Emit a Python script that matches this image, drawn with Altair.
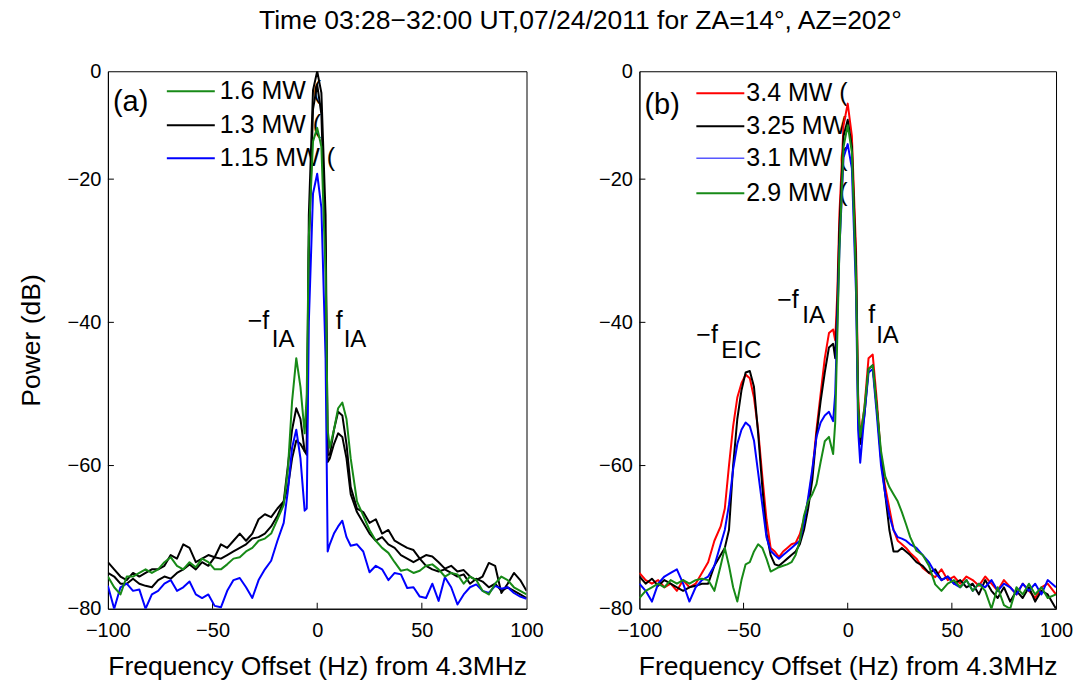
import altair as alt
import pandas as pd

FONT = "Liberation Sans"

# ---------------- panel (a) data ----------------
xa = [-100, -97, -94, -91, -88, -85, -82, -79, -76, -73, -70, -67, -64, -61, -58, -55, -52, -49, -46, -43,
      -40, -37, -34, -31, -28, -25, -22, -19, -16,
      -14, -12, -10, -8, -6, -5, -4, -2, 0, 2, 4, 5, 6, 8, 10, 12, 14,
      16, 19, 22, 25, 28, 31, 34, 37, 40, 43, 46, 49, 52, 55, 58, 61, 64, 67, 70, 73, 76, 79, 82, 85, 88,
      91, 94, 97, 100]

a_green = [-75.5, -77, -78, -75.5, -75.5, -75, -74.5, -75, -74.5, -73.5, -72.8, -74, -74.5, -73.5, -74.2, -73,
           -73.5, -74.5, -74.5, -73.8, -73, -72.8, -72, -71.5, -70.5, -70.2, -69.5, -67.5, -65.5,
           -60.5, -51, -45, -49, -55.5, -50, -28, -13, -10.5, -14, -33, -55, -57.5, -55, -52, -51.2, -53.5,
           -59, -65, -67, -69, -70.5, -71.5, -72.2, -73.5, -74.7, -74.5, -75, -74.7, -74, -73.8, -74.5, -75.5,
           -75, -75.2, -76.5, -75.5, -76, -77.5, -78, -76.5, -75.5, -76, -77, -77.5, -78]

a_black1 = [-73.5, -74.5, -75.5, -76, -75, -75.5, -75, -74.5, -74.5, -74, -72.5, -73, -71, -71.5, -73.5, -73,
            -72.5, -72.8, -71, -71.5, -70.5, -69.5, -70.5, -69.5, -67.5, -66.8, -67.2, -66, -65,
            -60, -55, -52, -53.5, -58, -58.5, -25, -3.5, 0, -4, -25, -58.5, -58.5, -55, -52.5, -53, -57,
            -63, -66, -66.5, -68, -67.5, -69.5, -69, -70.5, -71, -71.5, -71.8, -73, -72.5, -72.7, -73.5, -74.4,
            -74, -74.8, -74.6, -75.5, -76, -75.5, -73.6, -74, -77.8, -76.5, -75, -76, -77.5]

a_black2 = [-75, -75.5, -76.5, -76.5, -75.8, -76.5, -76.8, -77, -76, -75.5, -75.8, -75, -74.5, -73.8, -74.5, -73.5,
            -74, -72.8, -73, -72.5, -72, -71.5, -71, -70.2, -70, -69.5, -68.5, -67, -65,
            -63, -59, -56.5, -57, -58, -58, -30, -7, -2.5, -8, -30, -59.5, -59, -57, -55.5, -56, -59,
            -64, -66.5, -68, -69.5, -70.5, -70, -71, -71.5, -72.5, -73, -73.5, -73, -74, -74.5, -74.8, -74.5,
            -75, -75.5, -75.2, -76.5, -75.8, -76.2, -77, -76.5, -77.5, -77, -77.5, -78, -78.5]

a_blue = [-76.8, -80, -77, -76.5, -77.5, -77.3, -80, -78, -77.5, -76.5, -76, -77.5, -77, -76.2, -78, -78.5,
          -78, -79.6, -79.8, -77.5, -76, -75.7, -77, -78.5, -76, -74.5, -73.3, -70.5, -68,
          -63.5, -57.5, -55, -59, -66.3, -66, -40, -22, -19, -24, -45, -72, -71, -69.5, -68.5, -67.7, -70,
          -71.2, -71, -72, -74.9, -74, -74.5, -76, -75, -75.2, -77.1, -77, -78.3, -78.5, -76.5, -78.9, -75.6,
          -77, -79.4, -78, -77, -76.6, -77.5, -77.8, -76.8, -77.2, -77, -77.8, -78.3, -78.6]

# ---------------- panel (b) data ----------------
xb = [-100, -97, -94, -91, -88, -85, -82, -79, -76, -73, -70, -67, -64, -61,
      -59, -57, -55, -53, -51, -49, -47, -45, -43, -41, -39, -37, -35, -33, -31, -29, -27, -25, -23, -21,
      -19, -17, -15, -13, -11, -9, -7,
      -6, -5, -4, -2, 0, 2, 4, 5, 6,
      8, 10, 12, 14, 16, 18, 20, 22, 24, 26, 28, 30,
      33, 36, 39, 42, 45, 48, 51, 54, 57, 60, 63, 66, 69, 72, 75, 78, 81, 84, 87, 90, 93, 96, 100]

b_red = [-75, -76, -76.5, -76, -77, -76.5, -77.5, -76, -77, -76.5, -75, -73.5, -70.5, -68.5,
         -66, -60, -54.5, -50.5, -48.5, -47.3, -47.8, -50.5, -55, -61.5, -67.5, -71.5, -72, -72.8, -72, -71.5,
         -71, -70.8, -69.6, -67.5, -65, -61, -55, -50, -45, -41.5, -41,
         -42.5, -36, -25, -10, -6, -12, -30, -50, -56,
         -52, -45, -44.5, -51, -59, -63, -66, -69, -70.5, -71, -71.5, -72.2,
         -73, -74.3, -75, -75.6, -74.5, -76, -75.5, -76.5, -75.5, -76, -76.8, -75.5, -76.5, -77.5, -76, -77,
         -78, -76.5, -77.5, -78.5, -77, -76.5, -78]

b_black = [-75.5, -76.5, -75.8, -76.8, -76, -76.5, -77, -77.5, -77, -76.8, -76.5, -76.5, -74, -72.5,
           -71.5, -69, -60, -53.5, -49.5, -47, -46.8, -49, -55.5, -63, -69.5, -72.5, -73.8, -74, -73.5, -73,
           -72.5, -72, -71, -69, -66, -62, -55.7, -51, -47, -43.5, -43,
           -45, -38, -27, -12, -9, -14, -32, -52, -57,
           -53, -46.5, -46, -52, -59, -64, -69, -72, -72, -71.5, -72, -72.5,
           -73.5, -74, -75, -74.5, -76, -75.5, -76.5, -76, -77, -76.5, -78, -76, -77.5, -78.5, -77, -79,
           -77.5, -78.5, -77, -79, -77.5, -78, -80]

b_blue = [-76.5, -77.5, -79, -76.5, -75.5, -75, -74.5, -76.5, -79, -77, -76, -75.5, -74, -71,
          -69, -65.5, -60.5, -57, -55, -54, -54.5, -56.5, -61, -65.5, -70, -71.9, -72.5, -73, -72.5, -72,
          -71.5, -71, -70.5, -68, -64.5, -60.5, -56, -54, -53, -52.5, -53.8,
          -50, -40, -30, -16, -13.5, -18, -36, -55, -59.6,
          -53, -47, -46.5, -53, -60, -64, -67, -69, -70, -70.2, -70.5, -71,
          -71.5, -72.5, -73.5, -75, -76, -75.5, -76.5, -77, -76, -77.5, -76.5, -77, -76, -77.5, -76.5, -77,
          -78, -76.5, -77.5, -76.5, -78, -76, -77]

b_green = [-78.5, -77.5, -77, -76.5, -77, -76, -76.5, -76, -76.5, -76, -75.8, -76, -77.5, -74,
           -71.5, -74, -77, -79, -76, -73.8, -73.5, -72, -71, -71.5, -73, -74.8, -74.5, -74.2, -74, -73.8,
           -73.5, -72.5, -70.5, -67, -65, -64, -62.6, -59.5, -56.6, -56, -58.4,
           -54, -42, -30, -14, -10, -15, -34, -52, -56,
           -52, -46.5, -46, -52, -58, -61.5, -63, -64, -65, -66.5, -68.2, -70,
           -71.9, -72.5, -74, -76.6, -77.5, -76.5, -76, -77, -76, -77.5, -76.5, -77.5, -80, -77, -79.5, -80,
           -77, -78, -76.5, -78, -77, -78.5, -78]

x_ticks = [-100, -50, 0, 50, 100]
y_ticks = [0, -20, -40, -60, -80]
inner_x_ticks = [-50, 0, 50]
inner_y_ticks = [-20, -40, -60]

TITLE = "Time 03:28−32:00 UT,07/24/2011 for ZA=14°, AZ=202°"

GREEN = "#178a17"
H = 538
W_A = 419
W_B = 417
Y_SCALE = alt.Scale(domain=[-80, -20, 0], range=[H, 108, 0], nice=False, zero=False)
X_SCALE = alt.Scale(domain=[-100, 100], nice=False, zero=False)


def txt(s, x, y, size, baseline="alphabetic", align="left"):
    return alt.Chart(pd.DataFrame({"t": [s]})).mark_text(
        text=s, font=FONT, fontSize=size, align=align, baseline=baseline, color="black"
    ).encode(x=alt.value(x), y=alt.value(y))


def legend_line(color, x1, x2, y, width=2):
    return alt.Chart(pd.DataFrame({"t": [0]})).mark_rule(color=color, strokeWidth=width).encode(
        x=alt.value(x1), x2=alt.value(x2), y=alt.value(y)
    )


def panel(x, series, width, ytitle, legend, legend_x, line_x, tag, tag_y, notes, extra=()):
    df = pd.DataFrame({"x": x, **{name: vals for name, vals, _ in series}})
    xaxis = alt.Axis(values=x_ticks, title="Frequency Offset (Hz) from 4.3MHz", ticks=False,
                     labelPadding=12, titlePadding=13)
    yaxis = alt.Axis(values=y_ticks, title=ytitle, ticks=False, labelPadding=7, titlePadding=22)
    layers = []
    # inward ticks
    layers.append(alt.Chart(pd.DataFrame({"v": inner_x_ticks})).mark_rule(color="black", strokeWidth=1).encode(
        x=alt.X("v:Q", scale=X_SCALE, axis=xaxis), y=alt.value(H), y2=alt.value(H - 6)))
    layers.append(alt.Chart(pd.DataFrame({"v": inner_y_ticks})).mark_rule(color="black", strokeWidth=1).encode(
        y=alt.Y("v:Q", scale=Y_SCALE, axis=yaxis), x=alt.value(0), x2=alt.value(6)))
    # legend
    for label, color, lw, ly in legend:
        layers.append(legend_line(color, line_x[0], line_x[1], ly, lw))
        layers.append(txt(label, legend_x, ly, 25, baseline="middle"))
    layers.append(txt(tag, 5, tag_y, 29, baseline="middle"))
    for s, nx, ny, size in notes:
        layers.append(txt(s, nx, ny, size))
    layers.extend(extra)
    # curves
    for name, vals, color in series:
        layers.append(alt.Chart(df).mark_line(color=color, strokeWidth=2, clip=True, strokeJoin="round").encode(
            x=alt.X("x:Q", scale=X_SCALE, axis=xaxis),
            y=alt.Y(f"{name}:Q", scale=Y_SCALE, axis=yaxis),
        ))
    return alt.layer(*layers).properties(width=width, height=H)


# overall title drawn as text, centred over both panels (plot a starts at x=0)
title_mark = txt(TITLE, 473, -50, 26.5, baseline="middle", align="center")

panel_a = panel(
    xa,
    [("b2", a_black2, "black"), ("b1", a_black1, "black"), ("blue", a_blue, "#0000ff"), ("green", a_green, GREEN)],
    W_A, "Power (dB)",
    [("1.6 MW (", GREEN, 2, 20), ("1.3 MW (", "black", 2, 54), ("1.15 MW (", "#0000ff", 2, 87)],
    112, (59, 107), "(a)", 31,
    [("−f", 140, 258, 25), ("IA", 164, 276, 24), ("f", 228, 258, 25), ("IA", 236, 276, 24)],
    extra=(title_mark,),
)

panel_b = panel(
    xb,
    [("red", b_red, "#ff0000"), ("black", b_black, "black"), ("blue", b_blue, "#0000ff"), ("green", b_green, GREEN)],
    W_B, None,
    [("3.4 MW (", "#ff0000", 2, 22), ("3.25 MW", "black", 2, 55), ("3.1 MW (", "#0000ff", 1, 87),
     ("2.9 MW (", GREEN, 2, 122)],
    107, (57, 105), "(b)", 34,
    [("−f", 57, 272, 25), ("EIC", 82, 287, 24), ("−f", 138, 237, 25), ("IA", 163, 252, 24),
     ("f", 229, 252, 25), ("IA", 237, 272, 24)],
)

chart = alt.hconcat(panel_a, panel_b, spacing=113, bounds="flush").properties(
    padding={"left": 17, "top": 7, "right": 0, "bottom": 0},
).configure_view(stroke="black", strokeWidth=1).configure_axis(
    domainColor="black", domainWidth=1, grid=False, labelFont=FONT, labelFontSize=20, labelColor="black",
    titleFont=FONT, titleFontSize=26.5, titleFontWeight="normal", titleColor="black", labelFlush=False,
)

chart.save("out.html", embed_options={"renderer": "svg", "actions": False})
